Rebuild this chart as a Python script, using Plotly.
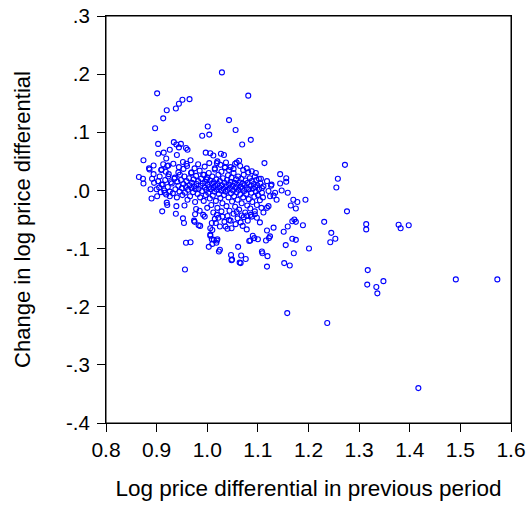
import plotly.graph_objects as go

# ---- tick labels ----
x_tick_vals = [0.8, 0.9, 1.0, 1.1, 1.2, 1.3, 1.4, 1.5, 1.6]
x_tick_text = ["0.8", "0.9", "1.0", "1.1", "1.2", "1.3", "1.4", "1.5", "1.6"]
y_tick_vals = [0.3, 0.2, 0.1, 0.0, -0.1, -0.2, -0.3, -0.4]
y_tick_text = [".3", ".2", ".1", ".0", "-.1", "-.2", "-.3", "-.4"]

x_title = "Log price differential in previous period"
y_title = "Change in log price differential"

# ---- outlying / readable points ----
outer_x = [1.081, 1.086, 1.069, 1.113, 1.272, 1.258, 1.255, 1.144, 1.156, 1.156, 1.144, 1.126, 1.147, 1.159,
           1.118, 1.106, 1.094, 1.131, 1.137, 1.194, 1.170, 1.178, 1.165, 1.175, 1.121, 1.118, 1.276, 1.168,
           1.172, 1.175, 1.189, 1.159, 1.151, 1.131, 1.118, 1.078, 1.231, 1.245, 1.253, 1.243, 1.314, 1.314,
           1.378, 1.382, 1.398, 1.168, 1.175, 1.122, 1.116, 1.090, 1.093, 1.083, 1.155, 1.201, 1.109, 1.119,
           1.171, 1.067, 1.076, 1.066, 1.118, 1.152, 1.163, 1.317, 1.316, 1.334, 1.336, 1.348, 1.491, 1.573,
           0.956, 1.048, 1.158, 1.237, 1.417,
           1.029, 0.901, 0.965, 0.951, 0.944, 0.938, 0.920, 0.913, 1.043, 0.897, 1.056, 1.001, 1.004, 0.990,
           0.903, 0.934, 0.939, 0.948, 0.944, 0.926, 0.958, 0.961, 0.903, 0.914, 0.940, 0.997, 1.006, 1.012,
           1.027, 1.033, 0.919, 0.874,
           1.019, 1.037, 1.058, 1.063, 0.886, 0.894, 0.909, 0.921, 0.933, 0.865, 0.873, 0.874, 0.888, 0.890,
           0.901, 0.911, 0.921, 0.938, 0.939, 0.952, 0.954, 0.958, 0.967, 0.955, 0.974, 0.986, 0.995, 1.003,
           1.006, 1.009, 1.019, 1.018, 1.010, 1.023, 1.030, 1.036, 1.043, 1.048, 1.061, 1.047, 1.049, 1.064,
           1.100,
           1.019, 1.015, 1.009, 1.017, 1.006, 1.025, 1.058, 1.068, 1.078, 1.088, 1.094, 1.111, 1.006, 1.013,
           1.020, 1.010, 1.085, 1.124, 1.025, 1.108,
           0.975, 0.983, 0.976, 0.978, 0.920,
           0.885, 0.894, 0.910, 0.923, 0.891, 0.895, 0.903, 0.910, 0.900, 0.923, 0.936, 0.943, 0.953, 0.959,
           0.969, 0.916, 0.926,
           1.020, 1.055, 1.015, 1.035, 1.046, 1.052, 1.071, 1.102, 1.127, 0.994, 0.999, 1.111, 1.121, 1.134,
           1.108, 1.124]
outer_y = [0.163, 0.087, 0.079, 0.047, 0.044, 0.020, 0.005, 0.028, 0.021, 0.015, 0.012, 0.008, 0.000, -0.004,
           0.016, 0.020, 0.024, -0.009, -0.016, -0.016, -0.016, -0.020, -0.026, -0.031, -0.027, -0.030, -0.036, -0.053,
           -0.050, -0.054, -0.060, -0.062, -0.071, -0.064, -0.069, -0.067, -0.054, -0.073, -0.083, -0.089, -0.058, -0.067,
           -0.059, -0.065, -0.060, -0.083, -0.085, -0.082, -0.086, -0.078, -0.082, -0.087, -0.094, -0.100, -0.108, -0.113,
           -0.108, -0.112, -0.118, -0.125, -0.131, -0.125, -0.129, -0.137, -0.162, -0.166, -0.177, -0.156, -0.153, -0.153,
           -0.136, -0.120, -0.211, -0.228, -0.340,
           0.203, 0.167, 0.157, 0.156, 0.149, 0.141, 0.138, 0.124, 0.121, 0.107, 0.104, 0.110, 0.096, 0.094,
           0.080, 0.083, 0.079, 0.080, 0.074, 0.070, 0.073, 0.070, 0.063, 0.065, 0.061, 0.065, 0.064, 0.060,
           0.063, 0.061, 0.055, 0.052,
           0.047, 0.048, 0.048, 0.051, 0.036, 0.028, 0.035, 0.042, 0.046, 0.023, 0.020, 0.012, 0.002, -0.014,
           -0.010, -0.036, -0.025, -0.040, -0.027, -0.048, -0.056, -0.090, -0.089, -0.026, -0.052, -0.061, -0.045, -0.097,
           -0.078, -0.084, -0.086, -0.090, -0.068, -0.105, -0.045, -0.062, -0.051, -0.065, -0.097, -0.111, -0.119, -0.124,
           -0.084,
           -0.042, -0.049, -0.056, -0.056, -0.065, -0.062, -0.037, -0.043, -0.043, -0.045, -0.041, -0.038, -0.076, -0.085,
           -0.084, -0.092, -0.086, -0.079, -0.102, -0.105,
           -0.054, -0.060, -0.041, -0.032, -0.021,
           0.038, 0.043, 0.036, 0.043, 0.020, 0.013, 0.016, 0.010, 0.002, 0.024, 0.022, 0.031, 0.037, 0.046,
           0.031, -0.004, -0.010,
           0.050, 0.046, 0.038, 0.039, 0.040, 0.037, 0.035, 0.020, 0.010, 0.027, 0.019, 0.007, -0.001, -0.004,
           -0.004, -0.010]

# ---- dense core (estimated) ----
core_x = [0.930, 0.932, 0.935, 0.937, 0.940, 0.941, 0.943, 0.945, 0.946, 0.948, 0.950, 0.951, 0.953, 0.955,
          0.956, 0.958, 0.959, 0.961, 0.962, 0.964, 0.965, 0.966, 0.968, 0.969, 0.970, 0.972, 0.973, 0.974,
          0.976, 0.977, 0.978, 0.979, 0.981, 0.982, 0.983, 0.985, 0.986, 0.987, 0.988, 0.990, 0.991, 0.992,
          0.993, 0.995, 0.996, 0.997, 0.998, 1.000, 1.001, 1.002, 1.003, 1.004, 1.005, 1.006, 1.007, 1.008,
          1.009, 1.010, 1.011, 1.012, 1.013, 1.014, 1.015, 1.016, 1.017, 1.018, 1.019, 1.020, 1.021, 1.022,
          1.023, 1.024, 1.025, 1.026, 1.027, 1.028, 1.029, 1.030, 1.031, 1.032, 1.033, 1.034, 1.035, 1.036,
          1.037, 1.038, 1.039, 1.040, 1.041, 1.042, 1.043, 1.044, 1.045, 1.046, 1.047, 1.048, 1.049, 1.050,
          1.051, 1.052, 1.053, 1.054, 1.055, 1.056, 1.057, 1.058, 1.059, 1.060, 1.061, 1.062, 1.063, 1.064,
          1.065, 1.066, 1.067, 1.068, 1.069, 1.070, 1.071, 1.072, 1.073, 1.074, 1.075, 1.076, 1.077, 1.078,
          1.079, 1.080, 1.081, 1.082, 1.083, 1.084, 1.085, 1.086, 1.087, 1.088, 1.089, 1.090, 1.092, 1.093,
          1.094, 1.095, 1.096, 1.097, 1.098, 1.099, 1.100, 1.102, 1.104, 1.105, 1.107, 1.108, 1.110,
          0.905, 0.908, 0.912, 0.915, 0.917, 0.919, 0.922, 0.924, 0.926, 0.928, 0.918, 0.906, 0.913,
          0.985, 0.992, 1.000, 1.012, 1.022, 1.028, 1.040, 1.046, 1.052, 1.060, 1.066, 1.072, 1.080, 1.086,
          1.098, 1.104, 1.070, 1.056, 1.034, 1.040,
          0.944, 0.952, 0.960, 0.967, 0.975, 0.982, 0.995, 1.004, 1.026, 1.043, 1.065, 1.078, 1.088, 1.096]
core_y = [0.012, -0.005, 0.020, 0.002, -0.012, 0.015, 0.008, -0.002, 0.027, 0.018, 0.004, -0.008, 0.011, 0.024,
          -0.004, 0.006, 0.016, -0.016, 0.001, 0.021, 0.009, -0.010, 0.030, 0.004, 0.013, -0.003, 0.019, 0.007,
          -0.020, 0.002, 0.025, 0.011, -0.006, 0.016, 0.003, 0.034, -0.012, 0.008, 0.020, -0.001, 0.012, 0.027,
          -0.018, 0.005, 0.015, -0.008, 0.001, 0.022, 0.010, -0.004, 0.030, 0.006, -0.014, 0.017, 0.002, -0.025,
          0.012, 0.024, -0.009, 0.004, 0.014, -0.002, 0.036, 0.008, -0.018, 0.019, 0.001, -0.030, 0.011, 0.027,
          -0.006, 0.005, 0.016, -0.013, 0.000, 0.032, 0.009, -0.022, 0.021, 0.003, -0.008, 0.013, 0.040, -0.002,
          0.007, -0.027, 0.018, 0.001, 0.026, -0.012, 0.010, -0.035, 0.004, 0.015, -0.005, 0.022, -0.019, 0.008,
          0.000, 0.030, -0.010, 0.013, -0.028, 0.005, 0.019, -0.003, 0.010, -0.016, 0.024, 0.001, -0.033, 0.014,
          -0.007, 0.006, 0.020, -0.022, 0.003, 0.012, -0.012, 0.027, -0.001, 0.009, -0.038, 0.017, -0.006, 0.004,
          -0.026, 0.013, 0.031, -0.015, 0.002, 0.021, -0.031, 0.008, -0.004, 0.016, -0.020, 0.003, 0.011, -0.011,
          -0.036, 0.006, -0.002, 0.018, -0.025, 0.009, -0.008, 0.002, -0.017, 0.012, -0.030, 0.004, -0.012,
          0.005, -0.003, 0.010, 0.000, 0.018, -0.007, 0.006, 0.028, -0.002, 0.014, 0.032, 0.024, 0.045,
          -0.035, -0.042, -0.030, -0.038, -0.047, -0.036, -0.044, -0.052, -0.040, -0.048, -0.055, -0.046, -0.052, -0.042,
          -0.047, -0.055, -0.061, -0.058, -0.054, -0.066,
          0.040, 0.049, 0.042, 0.052, 0.038, 0.045, 0.041, 0.047, 0.044, 0.035, 0.042, 0.038, 0.033, 0.030]

all_x = outer_x + core_x
all_y = outer_y + core_y

FONT = "Arial, 'Liberation Sans', sans-serif"

fig = go.Figure()
fig.add_trace(go.Scatter(
    x=all_x, y=all_y, mode="markers",
    marker=dict(symbol="circle-open", size=5, color="#0000FF", line=dict(width=1.1, color="#0000FF")),
    showlegend=False, hoverinfo="x+y",
))

axis_common = dict(
    showline=True, linecolor="black", linewidth=1, mirror=True,
    ticks="outside", ticklen=8, tickwidth=1, tickcolor="black",
    showgrid=False, zeroline=False, automargin=False, ticklabeloverflow="allow",
)

fig.update_layout(
    width=528, height=506,
    margin=dict(l=106, r=17, t=16, b=83),
    paper_bgcolor="white", plot_bgcolor="white",
    font=dict(family=FONT, color="black"),
    xaxis=dict(range=[0.8, 1.6], tickvals=x_tick_vals, ticktext=x_tick_text,
               tickfont=dict(size=21, family=FONT), ticklabelstandoff=0,
               title=dict(text=x_title, font=dict(size=22.5, family=FONT), standoff=20),
               **axis_common),
    yaxis=dict(range=[-0.4, 0.3], tickvals=y_tick_vals, ticktext=y_tick_text,
               tickfont=dict(size=20.5, family=FONT), ticklabelstandoff=3,
               title=dict(text=y_title, font=dict(size=22, family=FONT), standoff=29),
               **axis_common),
    shapes=[dict(type="rect", xref="paper", yref="paper", x0=0, x1=1, y0=0, y1=1,
                 line=dict(color="black", width=1), fillcolor="rgba(0,0,0,0)", layer="above")],
)

# remove the browser's default 8px body margin so the 528x506 figure fills the window
fig.write_html("out.html", config={"displayModeBar": False},
               post_script="document.body.style.margin='0px';")
